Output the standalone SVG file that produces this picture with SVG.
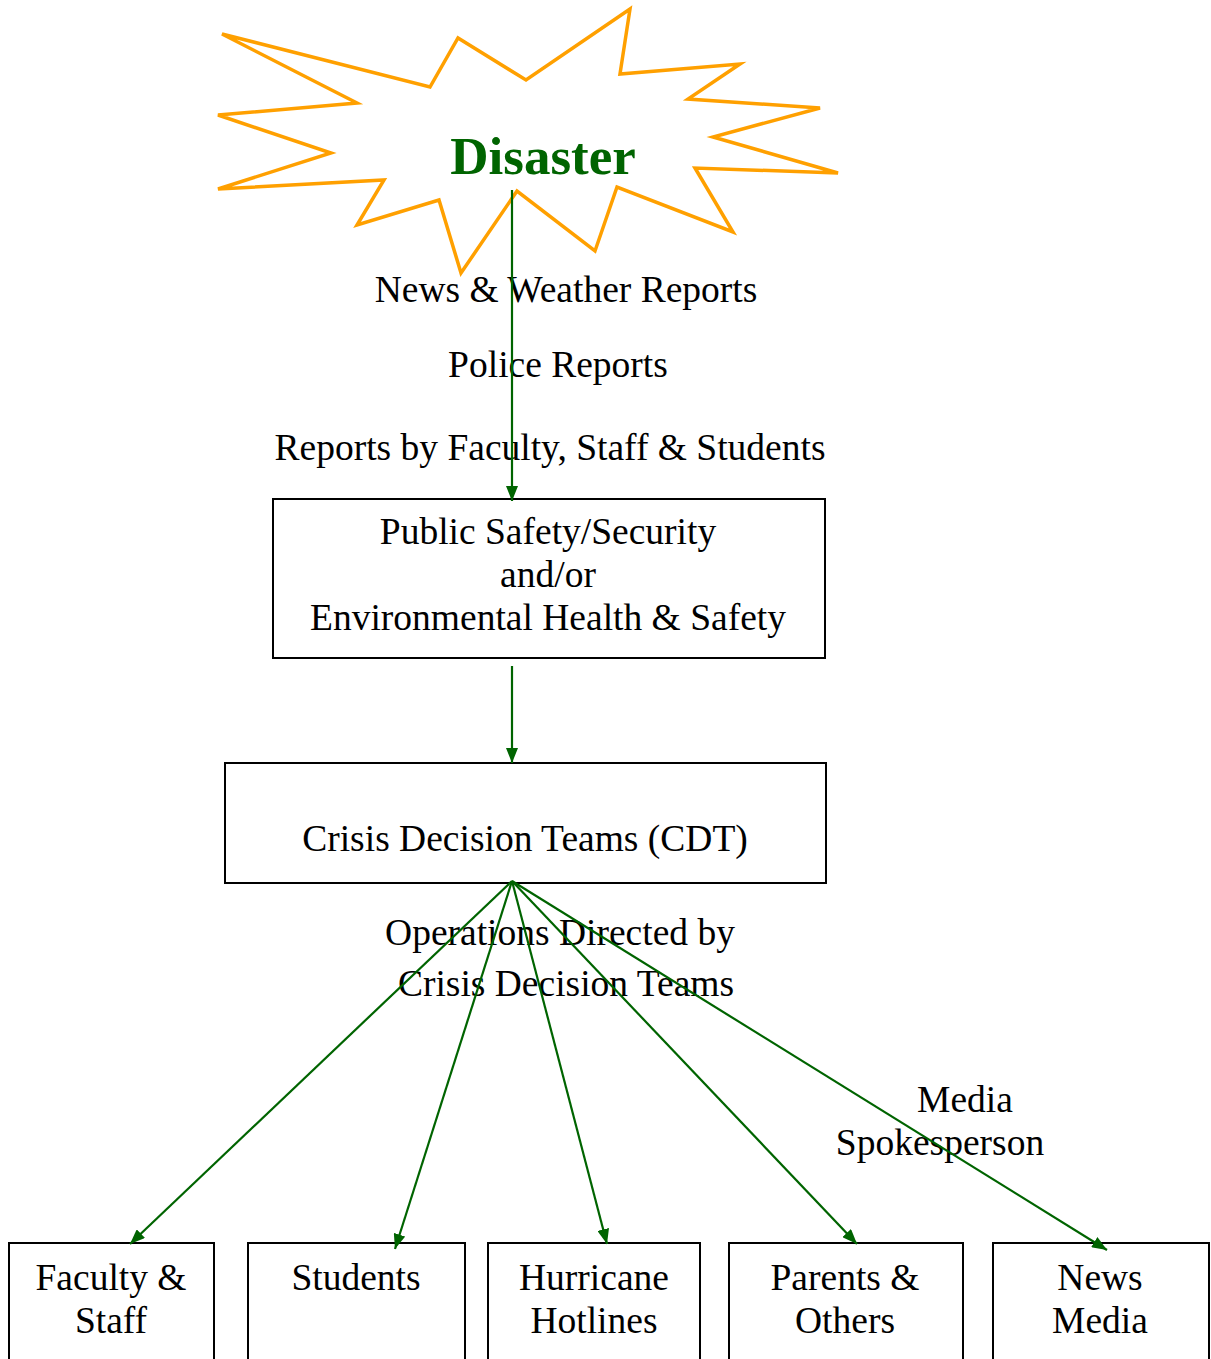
<svg xmlns="http://www.w3.org/2000/svg" width="1211" height="1359" viewBox="0 0 1211 1359">
<style>
.t{font-family:"Liberation Serif","Times New Roman",serif;font-size:37.5px;fill:#000;text-anchor:middle}
.box{fill:#fff;stroke:#000;stroke-width:2}
.c{stroke:#006400;stroke-width:2.2;fill:none;marker-end:url(#ah)}
</style>
<defs>
<marker id="ah" markerWidth="15" markerHeight="12" refX="15" refY="6" orient="auto" markerUnits="userSpaceOnUse">
<path d="M0,0 L15,6 L0,12 Z" fill="#006400"/>
</marker>
</defs>
<rect width="1211" height="1359" fill="#fff"/>
<g id="disaster">
<polygon points="222,34 430,87 458,38 526,80 630,9 620,74 740,64 688,99 820,108 713,137 838,173 695,168 733,232 617,187 595,251 517,191 461,273 439,200 357,225 384,180 218,189 331,153 218,115 357,103" fill="#fff" stroke="#ffa000" stroke-width="3.5" stroke-linejoin="miter"/>
<text x="543" y="174" font-family="Liberation Serif, Times New Roman, serif" font-size="53" font-weight="bold" fill="#006400" text-anchor="middle">Disaster</text>
</g>
<g id="labels-top">
<text class="t" x="566" y="302">News &amp; Weather Reports</text>
<text class="t" x="558" y="377">Police Reports</text>
<text class="t" x="550" y="460">Reports by Faculty, Staff &amp; Students</text>
</g>
<g id="safety">
<rect class="box" x="273" y="499" width="552" height="159"/>
<text class="t" x="548" y="544">Public Safety/Security</text>
<text class="t" x="548" y="587">and/or</text>
<text class="t" x="548" y="630">Environmental Health &amp; Safety</text>
</g>
<g id="cdt">
<rect class="box" x="225" y="763" width="601" height="120"/>
<text class="t" x="525" y="851">Crisis Decision Teams (CDT)</text>
</g>
<g id="labels-mid">
<text class="t" x="560" y="945">Operations Directed by</text>
<text class="t" x="566" y="996">Crisis Decision Teams</text>
<text class="t" x="965" y="1112">Media</text>
<text class="t" x="940" y="1155">Spokesperson</text>
</g>
<g id="faculty">
<rect class="box" x="9" y="1243" width="205" height="130"/>
<text class="t" x="111" y="1290">Faculty &amp;</text>
<text class="t" x="111" y="1333">Staff</text>
</g>
<g id="students">
<rect class="box" x="248" y="1243" width="217" height="130"/>
<text class="t" x="356" y="1290">Students</text>
</g>
<g id="hotlines">
<rect class="box" x="488" y="1243" width="212" height="130"/>
<text class="t" x="594" y="1290">Hurricane</text>
<text class="t" x="594" y="1333">Hotlines</text>
</g>
<g id="parents">
<rect class="box" x="729" y="1243" width="234" height="130"/>
<text class="t" x="845" y="1290">Parents &amp;</text>
<text class="t" x="845" y="1333">Others</text>
</g>
<g id="news">
<rect class="box" x="993" y="1243" width="216" height="130"/>
<text class="t" x="1100" y="1290">News</text>
<text class="t" x="1100" y="1333">Media</text>
</g>
<g id="connectors">
<line class="c" x1="512" y1="190" x2="512" y2="501"/>
<line class="c" x1="512" y1="666" x2="512" y2="763"/>
<line class="c" x1="512" y1="881" x2="130" y2="1244"/>
<line class="c" x1="512" y1="881" x2="395" y2="1249"/>
<line class="c" x1="512" y1="881" x2="607" y2="1244"/>
<line class="c" x1="512" y1="881" x2="857" y2="1244"/>
<line class="c" x1="512" y1="881" x2="1107" y2="1250"/>
</g>
</svg>
